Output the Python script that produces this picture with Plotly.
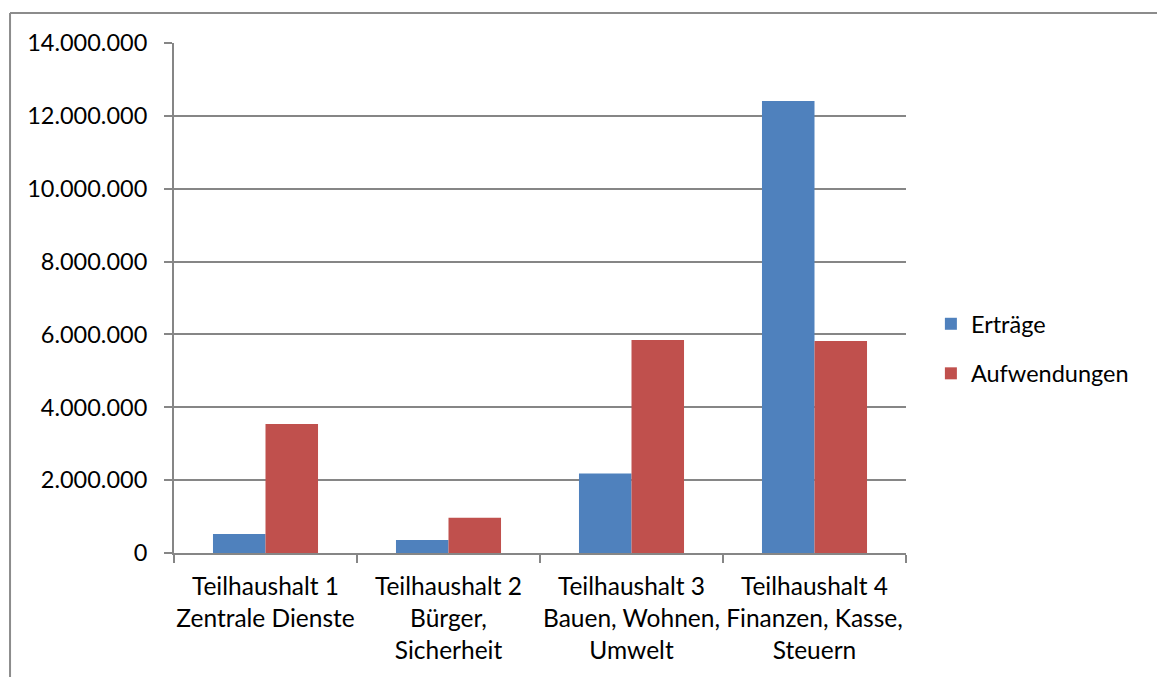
import plotly.graph_objects as go

categories = [
    "Teilhaushalt 1<br>Zentrale Dienste",
    "Teilhaushalt 2<br>Bürger,<br>Sicherheit",
    "Teilhaushalt 3<br>Bauen, Wohnen,<br>Umwelt",
    "Teilhaushalt 4<br>Finanzen, Kasse,<br>Steuern",
]
ertraege = [520000, 360000, 2180000, 12410000]
aufwendungen = [3540000, 970000, 5850000, 5820000]

FONT = "Lato"
FS = 23.5
GRID = "#868686"

fig = go.Figure()
fig.add_trace(go.Bar(name="Erträge", x=categories, y=ertraege,
                     marker=dict(color="#4F81BD", line=dict(width=0)),
                     legendgroup="a"))
fig.add_trace(go.Bar(name="Aufwendungen", x=categories, y=aufwendungen,
                     marker=dict(color="#C0504D", line=dict(width=0)),
                     legendgroup="b"))

# outer chart frame (top and left edges)
frame = dict(type="line", xref="paper", yref="paper",
             line=dict(color="#8C8C8C", width=2))
fig.add_shape(**frame, x0=-0.224, y0=1.0588, x1=1.4, y1=1.0588)
fig.add_shape(**frame, x0=-0.224, y0=1.0588, x1=-0.224, y1=-0.3)

fig.update_layout(
    width=1157, height=677,
    margin=dict(l=174, r=251, t=43, b=124),
    paper_bgcolor="white", plot_bgcolor="white",
    barmode="group", bargap=0.426, bargroupgap=0,
    separators=",.",
    font=dict(family=FONT, size=FS, color="black"),
    legend=dict(x=1.034, y=0.4, xanchor="left", yanchor="middle",
                traceorder="grouped", tracegroupgap=16,
                font=dict(size=FS), itemwidth=30),
    showlegend=True,
)
fig.update_xaxes(
    showline=True, linecolor=GRID, linewidth=2,
    ticks="outside", ticklen=8, tickwidth=2, tickcolor=GRID,
    tickson="boundaries", showgrid=False, tickangle=0, automargin=False,
    tickfont=dict(size=24.5), ticklabelstandoff=11,
)
fig.update_yaxes(
    range=[0, 14000000], dtick=2000000, tickformat=",d",
    showline=True, linecolor=GRID, linewidth=2,
    ticks="outside", ticklen=8, tickwidth=2, tickcolor=GRID,
    showgrid=True, gridcolor=GRID, gridwidth=2, automargin=False,
    zeroline=False, ticklabelstandoff=12,
    tickfont=dict(size=FS),
)

fig.write_html("out.html")
